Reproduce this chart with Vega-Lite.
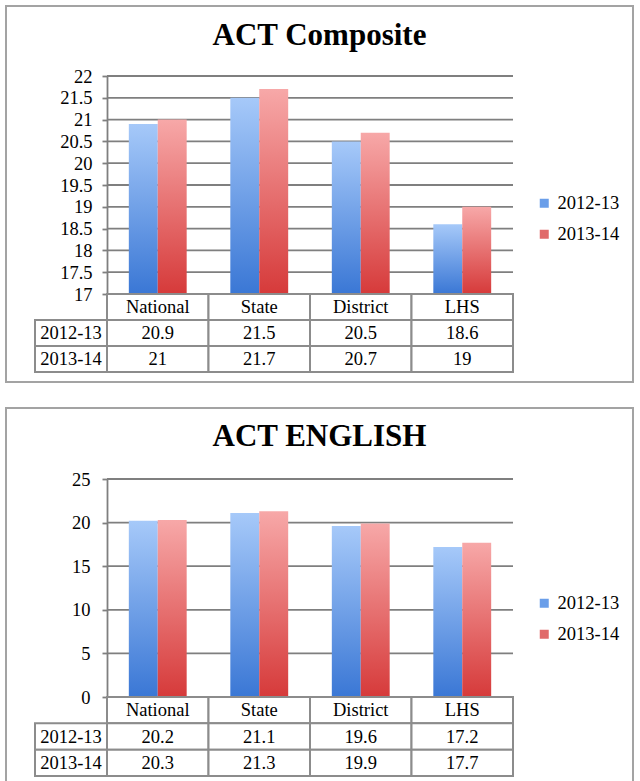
{
  "$schema": "https://vega.github.io/schema/vega-lite/v6.json",
  "padding": {"left": 5, "top": 5, "right": 5, "bottom": 0},
  "background": "white",
  "spacing": 24,
  "datasets": {
    "composite": [
      {"category": "National", "series": "2012-13", "value": 20.9},
      {"category": "National", "series": "2013-14", "value": 21},
      {"category": "State", "series": "2012-13", "value": 21.5},
      {"category": "State", "series": "2013-14", "value": 21.7},
      {"category": "District", "series": "2012-13", "value": 20.5},
      {"category": "District", "series": "2013-14", "value": 20.7},
      {"category": "LHS", "series": "2012-13", "value": 18.6},
      {"category": "LHS", "series": "2013-14", "value": 19}
    ],
    "english": [
      {"category": "National", "series": "2012-13", "value": 20.2},
      {"category": "National", "series": "2013-14", "value": 20.3},
      {"category": "State", "series": "2012-13", "value": 21.1},
      {"category": "State", "series": "2013-14", "value": 21.3},
      {"category": "District", "series": "2012-13", "value": 19.6},
      {"category": "District", "series": "2013-14", "value": 19.9},
      {"category": "LHS", "series": "2012-13", "value": 17.2},
      {"category": "LHS", "series": "2013-14", "value": 17.7}
    ],
    "ticks1": [{"t": 17}, {"t": 17.5}, {"t": 18}, {"t": 18.5}, {"t": 19}, {"t": 19.5}, {"t": 20}, {"t": 20.5}, {"t": 21}, {"t": 21.5}, {"t": 22}],
    "ticks2": [{"t": 0}, {"t": 5}, {"t": 10}, {"t": 15}, {"t": 20}, {"t": 25}]
  },
  "resolve": {"scale": {"color": "independent"}, "legend": {"color": "independent"}},
  "vconcat": [
    {
      "width": 627,
      "height": 376,
      "view": {"stroke": "#a3a3a3", "strokeWidth": 2, "fill": "white"},
      "title": {"text": "ACT Composite", "frame": "group", "anchor": "middle", "offset": -46, "font": "Liberation Serif", "fontSize": 31, "fontWeight": "bold", "color": "#000000"},
      "resolve": {"scale": {"x": "independent", "y": "independent"}},
      "layer": [
        {
          "data": {"name": "ticks1"},
          "mark": {"type": "rule", "stroke": "#7f7f7f", "strokeWidth": 1.8},
          "encoding": {
            "x": {"datum": 0, "type": "quantitative", "scale": {"domain": [0, 1], "range": [101, 507]}, "axis": null},
            "x2": {"datum": 1},
            "y": {"field": "t", "type": "quantitative", "scale": {"domain": [17, 22], "range": [288, 70], "zero": false, "nice": false}, "axis": null}
          }
        },
        {
          "data": {"name": "composite"},
          "encoding": {
            "x": {"field": "category", "type": "nominal", "sort": ["National", "State", "District", "LHS"], "scale": {"domain": ["National", "State", "District", "LHS"], "range": [101, 507], "paddingInner": 0.43, "paddingOuter": 0.215}, "axis": null},
            "xOffset": {"field": "series", "type": "nominal", "scale": {"domain": ["2012-13", "2013-14"]}},
            "y": {"field": "value", "type": "quantitative", "scale": {"domain": [17, 22], "range": [288, 70], "zero": false, "nice": false},
              "axis": {"orient": "left", "offset": -101, "values": [17, 17.5, 18, 18.5, 19, 19.5, 20, 20.5, 21, 21.5, 22], "format": "~g", "tickSize": 5, "labelPadding": 10, "domainColor": "#7f7f7f", "tickColor": "#7f7f7f", "domainWidth": 1.8, "tickWidth": 1.8, "labelFont": "Liberation Serif", "labelFontSize": 18.5, "labelColor": "#000000", "title": null, "grid": false}}
          },
          "layer": [
            {"transform": [{"filter": "datum.series === '2012-13'"}], "mark": {"type": "bar", "fill": {"gradient": "linear", "x1": 0, "y1": 0, "x2": 0, "y2": 1, "stops": [{"offset": 0, "color": "#a6c9f9"}, {"offset": 1, "color": "#3a77d5"}]}}, "encoding": {"y2": {"datum": 17}}},
            {"transform": [{"filter": "datum.series === '2013-14'"}], "mark": {"type": "bar", "fill": {"gradient": "linear", "x1": 0, "y1": 0, "x2": 0, "y2": 1, "stops": [{"offset": 0, "color": "#f7a8a8"}, {"offset": 1, "color": "#d63a3a"}]}}, "encoding": {"y2": {"datum": 17}}},
            {"mark": {"type": "square", "opacity": 0, "size": 81},
             "encoding": {"color": {"field": "series", "type": "nominal", "scale": {"domain": ["2012-13", "2013-14"], "range": ["#6a9ee9", "#e06a6a"]},
               "legend": {"orient": "none", "legendX": 529, "legendY": 188, "title": null, "padding": 0, "symbolType": "square", "symbolSize": 81, "symbolOpacity": 1, "symbolStrokeWidth": 0, "labelFont": "Liberation Serif", "labelFontSize": 18.5, "labelColor": "#000000", "labelOffset": 4, "rowPadding": 12}}}}
          ]
        },
        {
          "data": {"name": "composite"},
          "layer": [
            {
              "transform": [{"aggregate": [{"op": "count", "as": "n"}], "groupby": ["category"]}],
              "encoding": {
                "x": {"field": "category", "type": "nominal", "sort": ["National", "State", "District", "LHS"], "scale": {"domain": ["National", "State", "District", "LHS"], "range": [101, 507], "paddingInner": 0, "paddingOuter": 0}, "axis": null},
                "y": {"datum": "header", "type": "nominal", "scale": {"domain": ["header", "2012-13", "2013-14"], "range": [288, 366], "paddingInner": 0, "paddingOuter": 0}, "axis": null}
              },
              "layer": [
                {"mark": {"type": "rect", "fill": "white", "stroke": "#8c8c8c", "strokeWidth": 2}},
                {"mark": {"type": "text", "font": "Liberation Serif", "fontSize": 18.5, "color": "#000000", "baseline": "middle"}, "encoding": {"text": {"field": "category", "type": "nominal"}}}
              ]
            },
            {
              "encoding": {
                "x": {"field": "category", "type": "nominal", "sort": ["National", "State", "District", "LHS"], "scale": {"domain": ["National", "State", "District", "LHS"], "range": [101, 507], "paddingInner": 0, "paddingOuter": 0}, "axis": null},
                "y": {"field": "series", "type": "nominal", "scale": {"domain": ["header", "2012-13", "2013-14"], "range": [288, 366], "paddingInner": 0, "paddingOuter": 0}, "axis": null}
              },
              "layer": [
                {"mark": {"type": "rect", "fill": "white", "stroke": "#8c8c8c", "strokeWidth": 2}},
                {"mark": {"type": "text", "font": "Liberation Serif", "fontSize": 18.5, "color": "#000000", "baseline": "middle"}, "encoding": {"text": {"field": "value", "type": "quantitative", "format": "~g"}}}
              ]
            }
          ]
        },
        {
          "data": {"name": "composite"},
          "transform": [{"aggregate": [{"op": "count", "as": "n"}], "groupby": ["series"]}],
          "encoding": {
            "x": {"datum": "lab", "type": "nominal", "scale": {"domain": ["lab"], "range": [29, 101], "paddingInner": 0, "paddingOuter": 0}, "axis": null},
            "y": {"field": "series", "type": "nominal", "scale": {"domain": ["header", "2012-13", "2013-14"], "range": [288, 366], "paddingInner": 0, "paddingOuter": 0}, "axis": null}
          },
          "layer": [
            {"mark": {"type": "rect", "fill": "white", "stroke": "#8c8c8c", "strokeWidth": 2}},
            {"mark": {"type": "text", "font": "Liberation Serif", "fontSize": 18.5, "color": "#000000", "baseline": "middle"}, "encoding": {"text": {"field": "series", "type": "nominal"}}}
          ]
        }
      ]
    },
    {
      "width": 627,
      "height": 375,
      "view": {"stroke": "#a3a3a3", "strokeWidth": 2, "fill": "white"},
      "title": {"text": "ACT ENGLISH", "frame": "group", "anchor": "middle", "offset": -45, "font": "Liberation Serif", "fontSize": 31, "fontWeight": "bold", "color": "#000000"},
      "resolve": {"scale": {"x": "independent", "y": "independent"}},
      "layer": [
        {
          "data": {"name": "ticks2"},
          "mark": {"type": "rule", "stroke": "#7f7f7f", "strokeWidth": 1.8},
          "encoding": {
            "x": {"datum": 0, "type": "quantitative", "scale": {"domain": [0, 1], "range": [101, 507]}, "axis": null},
            "x2": {"datum": 1},
            "y": {"field": "t", "type": "quantitative", "scale": {"domain": [0, 25], "range": [289, 71], "zero": false, "nice": false}, "axis": null}
          }
        },
        {
          "data": {"name": "english"},
          "encoding": {
            "x": {"field": "category", "type": "nominal", "sort": ["National", "State", "District", "LHS"], "scale": {"domain": ["National", "State", "District", "LHS"], "range": [101, 507], "paddingInner": 0.43, "paddingOuter": 0.215}, "axis": null},
            "xOffset": {"field": "series", "type": "nominal", "scale": {"domain": ["2012-13", "2013-14"]}},
            "y": {"field": "value", "type": "quantitative", "scale": {"domain": [0, 25], "range": [289, 71], "zero": false, "nice": false},
              "axis": {"orient": "left", "offset": -101, "values": [0, 5, 10, 15, 20, 25], "format": "~g", "tickSize": 5, "labelPadding": 12, "domainColor": "#7f7f7f", "tickColor": "#7f7f7f", "domainWidth": 1.8, "tickWidth": 1.8, "labelFont": "Liberation Serif", "labelFontSize": 18.5, "labelColor": "#000000", "title": null, "grid": false}}
          },
          "layer": [
            {"transform": [{"filter": "datum.series === '2012-13'"}], "mark": {"type": "bar", "fill": {"gradient": "linear", "x1": 0, "y1": 0, "x2": 0, "y2": 1, "stops": [{"offset": 0, "color": "#a6c9f9"}, {"offset": 1, "color": "#3a77d5"}]}}, "encoding": {"y2": {"datum": 0}}},
            {"transform": [{"filter": "datum.series === '2013-14'"}], "mark": {"type": "bar", "fill": {"gradient": "linear", "x1": 0, "y1": 0, "x2": 0, "y2": 1, "stops": [{"offset": 0, "color": "#f7a8a8"}, {"offset": 1, "color": "#d63a3a"}]}}, "encoding": {"y2": {"datum": 0}}},
            {"mark": {"type": "square", "opacity": 0, "size": 81},
             "encoding": {"color": {"field": "series", "type": "nominal", "scale": {"domain": ["2012-13", "2013-14"], "range": ["#6a9ee9", "#e06a6a"]},
               "legend": {"orient": "none", "legendX": 529, "legendY": 186, "title": null, "padding": 0, "symbolType": "square", "symbolSize": 81, "symbolOpacity": 1, "symbolStrokeWidth": 0, "labelFont": "Liberation Serif", "labelFontSize": 18.5, "labelColor": "#000000", "labelOffset": 4, "rowPadding": 12}}}}
          ]
        },
        {
          "data": {"name": "english"},
          "layer": [
            {
              "transform": [{"aggregate": [{"op": "count", "as": "n"}], "groupby": ["category"]}],
              "encoding": {
                "x": {"field": "category", "type": "nominal", "sort": ["National", "State", "District", "LHS"], "scale": {"domain": ["National", "State", "District", "LHS"], "range": [101, 507], "paddingInner": 0, "paddingOuter": 0}, "axis": null},
                "y": {"datum": "header", "type": "nominal", "scale": {"domain": ["header", "2012-13", "2013-14"], "range": [289, 368], "paddingInner": 0, "paddingOuter": 0}, "axis": null}
              },
              "layer": [
                {"mark": {"type": "rect", "fill": "white", "stroke": "#8c8c8c", "strokeWidth": 2}},
                {"mark": {"type": "text", "font": "Liberation Serif", "fontSize": 18.5, "color": "#000000", "baseline": "middle"}, "encoding": {"text": {"field": "category", "type": "nominal"}}}
              ]
            },
            {
              "encoding": {
                "x": {"field": "category", "type": "nominal", "sort": ["National", "State", "District", "LHS"], "scale": {"domain": ["National", "State", "District", "LHS"], "range": [101, 507], "paddingInner": 0, "paddingOuter": 0}, "axis": null},
                "y": {"field": "series", "type": "nominal", "scale": {"domain": ["header", "2012-13", "2013-14"], "range": [289, 368], "paddingInner": 0, "paddingOuter": 0}, "axis": null}
              },
              "layer": [
                {"mark": {"type": "rect", "fill": "white", "stroke": "#8c8c8c", "strokeWidth": 2}},
                {"mark": {"type": "text", "font": "Liberation Serif", "fontSize": 18.5, "color": "#000000", "baseline": "middle"}, "encoding": {"text": {"field": "value", "type": "quantitative", "format": "~g"}}}
              ]
            }
          ]
        },
        {
          "data": {"name": "english"},
          "transform": [{"aggregate": [{"op": "count", "as": "n"}], "groupby": ["series"]}],
          "encoding": {
            "x": {"datum": "lab", "type": "nominal", "scale": {"domain": ["lab"], "range": [29, 101], "paddingInner": 0, "paddingOuter": 0}, "axis": null},
            "y": {"field": "series", "type": "nominal", "scale": {"domain": ["header", "2012-13", "2013-14"], "range": [289, 368], "paddingInner": 0, "paddingOuter": 0}, "axis": null}
          },
          "layer": [
            {"mark": {"type": "rect", "fill": "white", "stroke": "#8c8c8c", "strokeWidth": 2}},
            {"mark": {"type": "text", "font": "Liberation Serif", "fontSize": 18.5, "color": "#000000", "baseline": "middle"}, "encoding": {"text": {"field": "series", "type": "nominal"}}}
          ]
        }
      ]
    }
  ]
}
